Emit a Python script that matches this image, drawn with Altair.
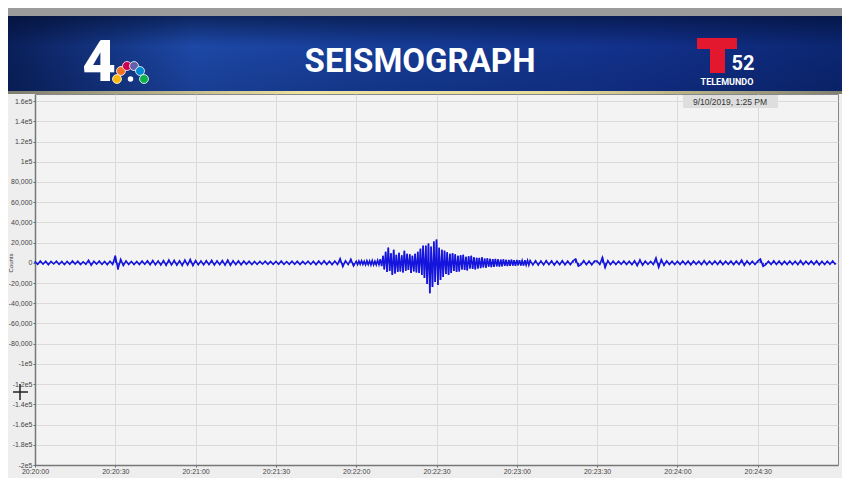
import altair as alt
import pandas as pd

# ---- trace values (counts) ----
# 1-second samples
seg_2020_00 = [1200,-1500,1800,-1300,1600,-1900,1400,-1100,1700,-1600,1300,-1800,1500,-1400,1900,-1200,1600,-1700,1100,-1500,2600,-2400,1500,-1300,1800,-1600,1400,-1900,1700,-1500]
seg_2020_30 = [7000,-6500,3500,-2800,1900,-1600,1500,-1800,1400,-1700,1800,-1500,2100,-1900,2400,-2000,1900,-2300,2200,-2600,2800,-2100,2500,-2400,2100,-2700,2900,-2300,3400,-2800]
seg_2021_00 = [2300,-2100,1900,-2000,2200,-1800,2500,-2200,2000,-1900,2300,-2400,2800,-2500,2100,-1800,1900,-2000,1700,-1500,1600,-1800,1400,-1600,1500,-1300,1700,-1500,1400,-1600]
seg_2021_30 = [1500,-1400,1800,-1600,1300,-1500,1700,-1400,1600,-1800,1400,-1300,1700,-1600,1500,-1900,1800,-1500,2000,-1700,1600,-1800,1900,-1600,4200,-3800,2000,-1800,3600,-3200]
# half-second samples through the event (20:22:00 - 20:23:05)
event_2022_00 = [1600,-1800,1900,-1500,2100,-1700,1600,-2000,2200,-1800,1900,-2300,2400,-2100,1800,-2200,2500,-2000,3500,-3200,
                 7000,-6500,11000,-9000,15000,-8000,9500,-12000,13000,-10500,8000,-9000,
                 10000,-8500,7500,-9500,12000,-8000,9000,-7000,8500,-10000,7000,-8500,
                 9000,-9500,11000,-10000,14000,-12000,17000,-15000,
                 17000,-21000,19000,-30000,16000,-24000,21000,-19000,23000,-22000,
                 15000,-17000,13000,-14000,12000,-11000,10500,-12000,9000,-10000,
                 9500,-8000,8500,-9000,7000,-8500,7500,-6500,8000,-7000,6000,-7500,6500,-5500,7000,-6000,5500,-6500,5000,-5500,
                 4800,-5200,5500,-4500,4200,-4800,4500,-3800,4000,-4300,3600,-4000,3800,-3400,3500,-3700,3200,-3500,3400,-3000,
                 3000,-3200,2800,-2900,3100,-2700,2600,-2900,2800,-2500,2700,-2600,2400,-2800,2600,-2300,2500,-2400]
seg_2023_05 = [2400,-2200,2100,-2300,1900,-2100,2200,-1800,2000,-2200,1800,-1900,2100,-2000,1700,-1900,2000,3800,-3400,-1800,2100,-1900,1800,-2000,1700]
seg_2023_30 = [1800,-1600,5500,-4800,2200,-1900,1700,-1800,1600,-1500,1900,-1700,1500,-1800,2000,-2900,3000,-2400,1800,-1600,1500,-1700,4900,-4600,3300,-2600,1900,-1700,1600,-1800]
seg_2024_00 = [1500,-1700,1900,-1600,1800,-2000,1700,-1500,1600,-1900,2100,-1800,1700,-1600,1900,-1700,2000,-1800,1600,-1500,1800,-1900,1700,-1600,2800,-2500,1900,-1700,1600,-1800]
seg_2024_30 = [1700,3800,-3500,-1800,1600,-1700,2000,-1600,1800,-1900,1500,-1700,1900,-1600,1700,-1800,2100,-1900,1600,-1500,1800,-1700,1900,-2000,1600,-1800,1700,-1500,1900,-1600]

segments = [
    (0, 1.0, seg_2020_00), (30, 1.0, seg_2020_30), (60, 1.0, seg_2021_00),
    (90, 1.0, seg_2021_30), (120, 0.5, event_2022_00), (185, 1.0, seg_2023_05),
    (210, 1.0, seg_2023_30), (240, 1.0, seg_2024_00), (270, 1.0, seg_2024_30),
]

y_ticks = list(range(-200000, 160001, 20000))
x_tick_seconds = list(range(0, 300, 30))
title_text = "SEISMOGRAPH"
stamp_text = "9/10/2019, 1:25 PM"
feather_colors = ["#FCB711", "#F37021", "#CC004C", "#6460AA", "#0089D0", "#0DB14B"]

rows = []
for start, step, vals in segments:
    for i, v in enumerate(vals):
        rows.append({"sec": start + i * step, "counts": v, "base": 0})
trace = pd.DataFrame(rows)

W, H = 803, 371
one = pd.DataFrame({"a": [0]})

x_scale = alt.Scale(domain=[0, 300], nice=False, zero=False)
y_scale = alt.Scale(domain=[-200000, 167000], nice=False, zero=False)

y_label_expr = ("replace(abs(datum.value) >= 100000 ? format(datum.value/100000, '~g') + 'e5' "
                ": format(datum.value, ','), '\u2212', '-')")
x_label_expr = ("'20:' + pad(toString(20 + floor(datum.value/60)), 2, '0', 'left') + ':' + "
                "pad(toString(datum.value % 60), 2, '0', 'left')")

x_enc = alt.X("sec:Q", scale=x_scale, axis=alt.Axis(
    values=x_tick_seconds, labelExpr=x_label_expr,
    title=None, labelFontSize=7, labelColor="#444", labelPadding=0, tickSize=2,
    tickColor="#666", domainColor="#777", domainWidth=1.5, gridColor="#dadada",
    labelFont="Liberation Sans", labelFlush=False, labelOverlap=False))
y_enc = alt.Y("counts:Q", scale=y_scale, axis=alt.Axis(
    values=y_ticks, labelExpr=y_label_expr, title=None, labelFontSize=7, labelColor="#444",
    labelPadding=1, tickSize=2, tickColor="#666", domainColor="#777", domainWidth=1.5,
    gridColor="#dadada", labelFont="Liberation Sans", labelOverlap=False))

spikes = alt.Chart(trace).mark_rule(color="#1a1ae0", strokeWidth=1.5).encode(
    x=x_enc, y=y_enc, y2="base:Q")
line = alt.Chart(trace).mark_line(color="#1414dc", strokeWidth=1.5).encode(
    x=x_enc, y=y_enc)

def rect(x, x2, y, y2, fill):
    return alt.Chart(one).mark_rect(fill=fill).encode(
        x=alt.value(x), x2=alt.value(x2), y=alt.value(y), y2=alt.value(y2))

gray_strip = rect(-27, 815, -86, -78, "#9b9b9b")
banner = rect(-27, 815, -78, -3, alt.LinearGradient(
    gradient="linear", x1=0, y1=0, x2=1, y2=0,
    stops=[alt.GradientStop(offset=0, color="#0a1f5a"),
           alt.GradientStop(offset=0.22, color="#1d48a6"),
           alt.GradientStop(offset=0.45, color="#163c96"),
           alt.GradientStop(offset=0.75, color="#12308a"),
           alt.GradientStop(offset=1, color="#0b2670")]))
banner_shade = rect(-27, 815, -78, -3, alt.LinearGradient(
    gradient="linear", x1=0, y1=0, x2=0, y2=1,
    stops=[alt.GradientStop(offset=0, color="rgba(0,10,40,0.55)"),
           alt.GradientStop(offset=0.4, color="rgba(0,10,40,0.0)"),
           alt.GradientStop(offset=1, color="rgba(0,10,40,0.15)")]))
gold = rect(-27, 815, -3, 0, alt.LinearGradient(
    gradient="linear", x1=0, y1=0, x2=1, y2=0,
    stops=[alt.GradientStop(offset=0, color="#7d7d70"),
           alt.GradientStop(offset=0.35, color="#efe3a0"),
           alt.GradientStop(offset=0.65, color="#e8dc9a"),
           alt.GradientStop(offset=1, color="#7d7d70")]))

def text(t, x, y, size, color, weight="bold", font="Roboto", align="center", angle=0, baseline="alphabetic"):
    return alt.Chart(one).mark_text(
        text=t, fontSize=size, color=color, fontWeight=weight, font=font,
        align=align, baseline=baseline, angle=angle).encode(x=alt.value(x), y=alt.value(y))

title = text(title_text, 385, -22, 33, "white")
four = text("4", 64, -13, 58, "white", weight=900)

feathers = alt.Chart(pd.DataFrame({
    "c": feather_colors,
    "px": [82, 86, 92, 99, 105, 109],
    "py": [-15, -23, -28, -28, -23, -15]})).mark_point(
    shape="circle", filled=True, size=80, opacity=1, stroke="white", strokeWidth=0.8).encode(
    x=alt.X("px:Q", scale=None), y=alt.Y("py:Q", scale=None),
    color=alt.Color("c:N", scale=None))
peacock_body = alt.Chart(one).mark_point(shape="circle", filled=True, size=30, color="white", opacity=1).encode(
    x=alt.value(95.5), y=alt.value(-15))

t_bar = rect(662, 702, -56, -45, "#e3182f")
t_stem = rect(675, 690, -56, -21, "#e3182f")
tel_52 = text("52", 708, -24, 20, "white")
tel_name = text("TELEMUNDO", 692, -9, 9, "white")

stamp_box = rect(648, 743, 1, 14, "#dedede")
stamp = text(stamp_text, 695, 8, 8.5, "#333", weight="normal", font="Liberation Sans", baseline="middle")

counts_title = text("Counts", -24, 169, 6, "#333", weight="normal", font="Liberation Sans", angle=270, baseline="middle")

cross_h = alt.Chart(one).mark_rule(color="#222", strokeWidth=1.5).encode(
    x=alt.value(-22), x2=alt.value(-7), y=alt.value(298))
cross_v = alt.Chart(one).mark_rule(color="#222", strokeWidth=1.5).encode(
    x=alt.value(-15), y=alt.value(290), y2=alt.value(306))

chart = alt.layer(
    spikes, line, gray_strip, banner, banner_shade, gold, title, four,
    feathers, peacock_body, t_bar, t_stem, tel_52, tel_name, stamp_box, stamp,
    counts_title, cross_h, cross_v
).properties(
    width=W, height=H,
    autosize=alt.AutoSizeParams(type="none"),
    padding={"left": 27, "top": 86, "right": 4, "bottom": 13},
    background="#eeeeee",
).configure_view(fill="#f3f3f3", stroke="#888", strokeWidth=1
).configure_axis(labelOverlap=False)

chart.save("out.html", embed_options={"renderer": "svg", "actions": False})
